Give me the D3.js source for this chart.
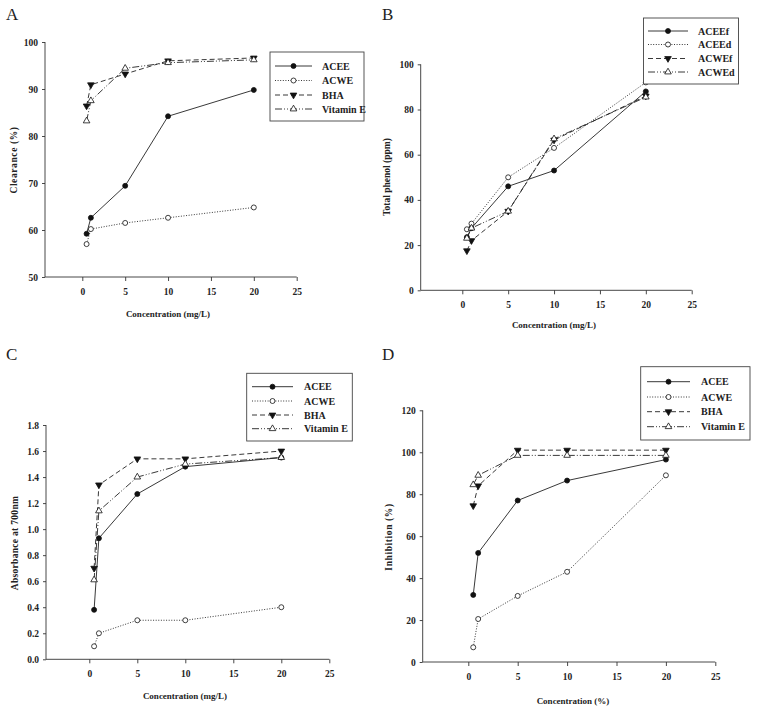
<!DOCTYPE html>
<html>
<head>
<meta charset="utf-8">
<script src="https://cdnjs.cloudflare.com/ajax/libs/d3/7.8.5/d3.min.js"></script>
<style>
  html, body { margin: 0; padding: 0; background: #fff; }
  svg text { font-family: "Liberation Serif", "Times New Roman", serif; fill: #222; }
</style>
</head>
<body>
<svg id="chart" width="757" height="714"></svg>
<script>
// ---------- DATA ----------
const concentrations = [0.5, 1, 5, 10, 20];
const xTicks = [0, 5, 10, 15, 20, 25];

// Panel A: Clearance (%)
const aSeriesNames = ["ACEE", "ACWE", "BHA", "Vitamin E"];
const aACEE = [59.2, 62.6, 69.4, 84.2, 89.8];
const aACWE = [57.0, 60.2, 61.5, 62.6, 64.8];
const aBHA = [86.4, 90.9, 93.2, 96.0, 96.6];
const aVitE = [83.2, 87.5, 94.4, 95.6, 96.2];
const aYTicks = [50, 60, 70, 80, 90, 100];

// Panel B: Total phenol (ppm)
const bSeriesNames = ["ACEEf", "ACEEd", "ACWEf", "ACWEd"];
const bACEEf = [23.5, 27.5, 46.0, 53.0, 88.0];
const bACEEd = [27.0, 29.5, 50.0, 63.0, 92.0];
const bACWEf = [17.5, 22.0, 35.0, 66.5, 86.0];
const bACWEd = [23.0, 27.5, 35.0, 67.0, 85.5];
const bYTicks = [0, 20, 40, 60, 80, 100];

// Panel C: Absorbance at 700nm
const cSeriesNames = ["ACEE", "ACWE", "BHA", "Vitamin E"];
const cACEE = [0.38, 0.93, 1.27, 1.48, 1.55];
const cACWE = [0.10, 0.20, 0.30, 0.30, 0.40];
const cBHA = [0.70, 1.34, 1.54, 1.54, 1.60];
const cVitE = [0.61, 1.14, 1.40, 1.50, 1.55];
const cYTicks = [0.0, 0.2, 0.4, 0.6, 0.8, 1.0, 1.2, 1.4, 1.6, 1.8];

// Panel D: Inhibition (%)
const dSeriesNames = ["ACEE", "ACWE", "BHA", "Vitamin E"];
const dACEE = [32.0, 52.0, 77.0, 86.5, 96.5];
const dACWE = [7.0, 20.5, 31.5, 43.0, 89.0];
const dBHA = [74.5, 84.0, 101.0, 101.0, 101.0];
const dVitE = [84.5, 89.0, 98.5, 98.5, 98.5];
const dYTicks = [0, 20, 40, 60, 80, 100, 120];

// ---------- STYLES ----------
const styles = [
  { dash: null, marker: "circle", fill: "#111" },
  { dash: "1,1.6", marker: "circle", fill: "#fff" },
  { dash: "5,3", marker: "triDown", fill: "#111" },
  { dash: "7,2,1,2,1,2", marker: "triUp", fill: "#fff" }
];

const svg = d3.select("#chart");

function drawMarker(g, type, x, y, fill) {
  if (type === "circle") {
    g.append("circle").attr("cx", x).attr("cy", y).attr("r", 2.5)
      .attr("fill", fill).attr("stroke", "#111").attr("stroke-width", 0.8);
  } else {
    const sym = d3.symbol().type(d3.symbolTriangle).size(19);
    g.append("path").attr("d", sym())
      .attr("transform", `translate(${x},${y}) rotate(${type === "triDown" ? 180 : 0})`)
      .attr("fill", fill).attr("stroke", "#111").attr("stroke-width", 0.8);
  }
}

function panel(cfg) {
  const g = svg.append("g");
  const x = d3.scaleLinear().domain([0, 25]).range([cfg.x0px, cfg.x25px]);
  const y = d3.scaleLinear().domain(cfg.yDomain).range(cfg.yRange);
  const yBottom = cfg.yRange[0], yTop = cfg.yRange[1];

  // axes
  const xa = g.append("g").attr("transform", `translate(0,${yBottom})`)
    .call(d3.axisBottom(x).tickValues(xTicks).tickFormat(d3.format("d")).tickSize(4).tickPadding(7));
  xa.select(".domain").remove();
  const ya = g.append("g").attr("transform", `translate(${cfg.axisX},0)`)
    .call(d3.axisLeft(y).tickValues(cfg.yTicks).tickFormat(cfg.yFmt).tickSize(3).tickPadding(4));
  ya.select(".domain").remove();
  [xa, ya].forEach(a => {
    a.selectAll("line").attr("stroke", "#333").attr("stroke-width", 0.9);
    a.selectAll("text").attr("font-size", 9.5).attr("font-weight", "bold")
      .attr("font-family", "'Liberation Serif', serif").attr("fill", "#222");
  });
  g.append("line").attr("x1", cfg.axisX).attr("x2", cfg.x25px)
    .attr("y1", yBottom).attr("y2", yBottom).attr("stroke", "#333").attr("stroke-width", 0.9);
  g.append("line").attr("x1", cfg.axisX).attr("x2", cfg.axisX)
    .attr("y1", yBottom).attr("y2", yTop).attr("stroke", "#333").attr("stroke-width", 0.9);

  // series
  const line = d3.line().x((d, i) => x(concentrations[i])).y(d => y(d));
  cfg.series.forEach((vals, si) => {
    const st = styles[si];
    g.append("path").datum(vals).attr("d", line)
      .attr("fill", "none").attr("stroke", "#222").attr("stroke-width", 0.9)
      .attr("stroke-dasharray", st.dash);
  });
  cfg.series.forEach((vals, si) => {
    const st = styles[si];
    vals.forEach((v, i) => drawMarker(g, st.marker, x(concentrations[i]), y(v), st.fill));
  });

  // legend
  const L = cfg.legend;
  g.append("rect").attr("x", L.x).attr("y", L.y).attr("width", L.w).attr("height", L.h)
    .attr("fill", "#fff").attr("stroke", "#444").attr("stroke-width", 0.9);
  cfg.names.forEach((nm, i) => {
    const st = styles[i];
    const ly = L.rows[i];
    g.append("line").attr("x1", L.lx1).attr("x2", L.lx2).attr("y1", ly).attr("y2", ly)
      .attr("stroke", "#222").attr("stroke-width", 0.9).attr("stroke-dasharray", st.dash);
    drawMarker(g, st.marker, (L.lx1 + L.lx2) / 2, ly, st.fill);
    g.append("text").attr("x", L.tx).attr("y", ly).attr("dy", "0.35em")
      .attr("font-size", 10).attr("font-weight", "bold").text(nm);
  });

  // titles
  g.append("text").attr("x", cfg.xTitle[0]).attr("y", cfg.xTitle[1])
    .attr("text-anchor", "middle").attr("font-size", 9).attr("font-weight", "bold")
    .text(cfg.xLabel);
  g.append("text").attr("transform", `translate(${cfg.yTitle[0]},${cfg.yTitle[1]}) rotate(-90)`)
    .attr("text-anchor", "middle").attr("font-size", 9.5).attr("font-weight", "bold")
    .attr("letter-spacing", cfg.yLetterSpacing || 0)
    .text(cfg.yLabel);
  g.append("text").attr("x", cfg.letter[0]).attr("y", cfg.letter[1])
    .attr("font-size", 17).text(cfg.letterText);
}

panel({
  letterText: "A", letter: [6, 20],
  x0px: 82.3, x25px: 296.7, axisX: 45,
  yDomain: [50, 100], yRange: [277, 42], yTicks: aYTicks, yFmt: d3.format("d"),
  series: [aACEE, aACWE, aBHA, aVitE], names: aSeriesNames,
  legend: { x: 270, y: 52, w: 94, h: 69, rows: [66, 80.5, 95, 109], lx1: 275, lx2: 312, tx: 322 },
  xLabel: "Concentration (mg/L)", xTitle: [168, 317],
  yLabel: "Clearance (%)", yTitle: [17, 160], yLetterSpacing: 0.6
});

panel({
  letterText: "B", letter: [382, 20],
  x0px: 462.3, x25px: 691.7, axisX: 420.7,
  yDomain: [0, 100], yRange: [290.3, 64.3], yTicks: bYTicks, yFmt: d3.format("d"),
  series: [bACEEf, bACEEd, bACWEf, bACWEd], names: bSeriesNames,
  legend: { x: 643.5, y: 18, w: 95, h: 66, rows: [31, 44.5, 58.5, 72], lx1: 648, lx2: 688, tx: 698 },
  xLabel: "Concentration (mg/L)", xTitle: [554, 328],
  yLabel: "Total phenol (ppm)", yTitle: [390, 177]
});

panel({
  letterText: "C", letter: [6, 360],
  x0px: 89.3, x25px: 329.3, axisX: 46,
  yDomain: [0, 1.8], yRange: [659.3, 425], yTicks: cYTicks, yFmt: d3.format(".1f"),
  series: [cACEE, cACWE, cBHA, cVitE], names: cSeriesNames,
  legend: { x: 246.7, y: 373.3, w: 105.6, h: 67.7, rows: [386.7, 401, 415, 428.7], lx1: 252, lx2: 293, tx: 304 },
  xLabel: "Concentration (mg/L)", xTitle: [185, 699],
  yLabel: "Absorbance at 700nm", yTitle: [18, 543], yLetterSpacing: 0.3
});

panel({
  letterText: "D", letter: [382, 360],
  x0px: 468.3, x25px: 715.3, axisX: 422.7,
  yDomain: [0, 120], yRange: [662, 410.3], yTicks: dYTicks, yFmt: d3.format("d"),
  series: [dACEE, dACWE, dBHA, dVitE], names: dSeriesNames,
  legend: { x: 640.7, y: 366.7, w: 109.3, h: 73.3, rows: [381.7, 397, 411.7, 426.7], lx1: 647, lx2: 690, tx: 701 },
  xLabel: "Concentration (%)", xTitle: [573, 704],
  yLabel: "Inhibition (%)", yTitle: [392, 537], yLetterSpacing: 0.6
});
</script>
</body>
</html>
